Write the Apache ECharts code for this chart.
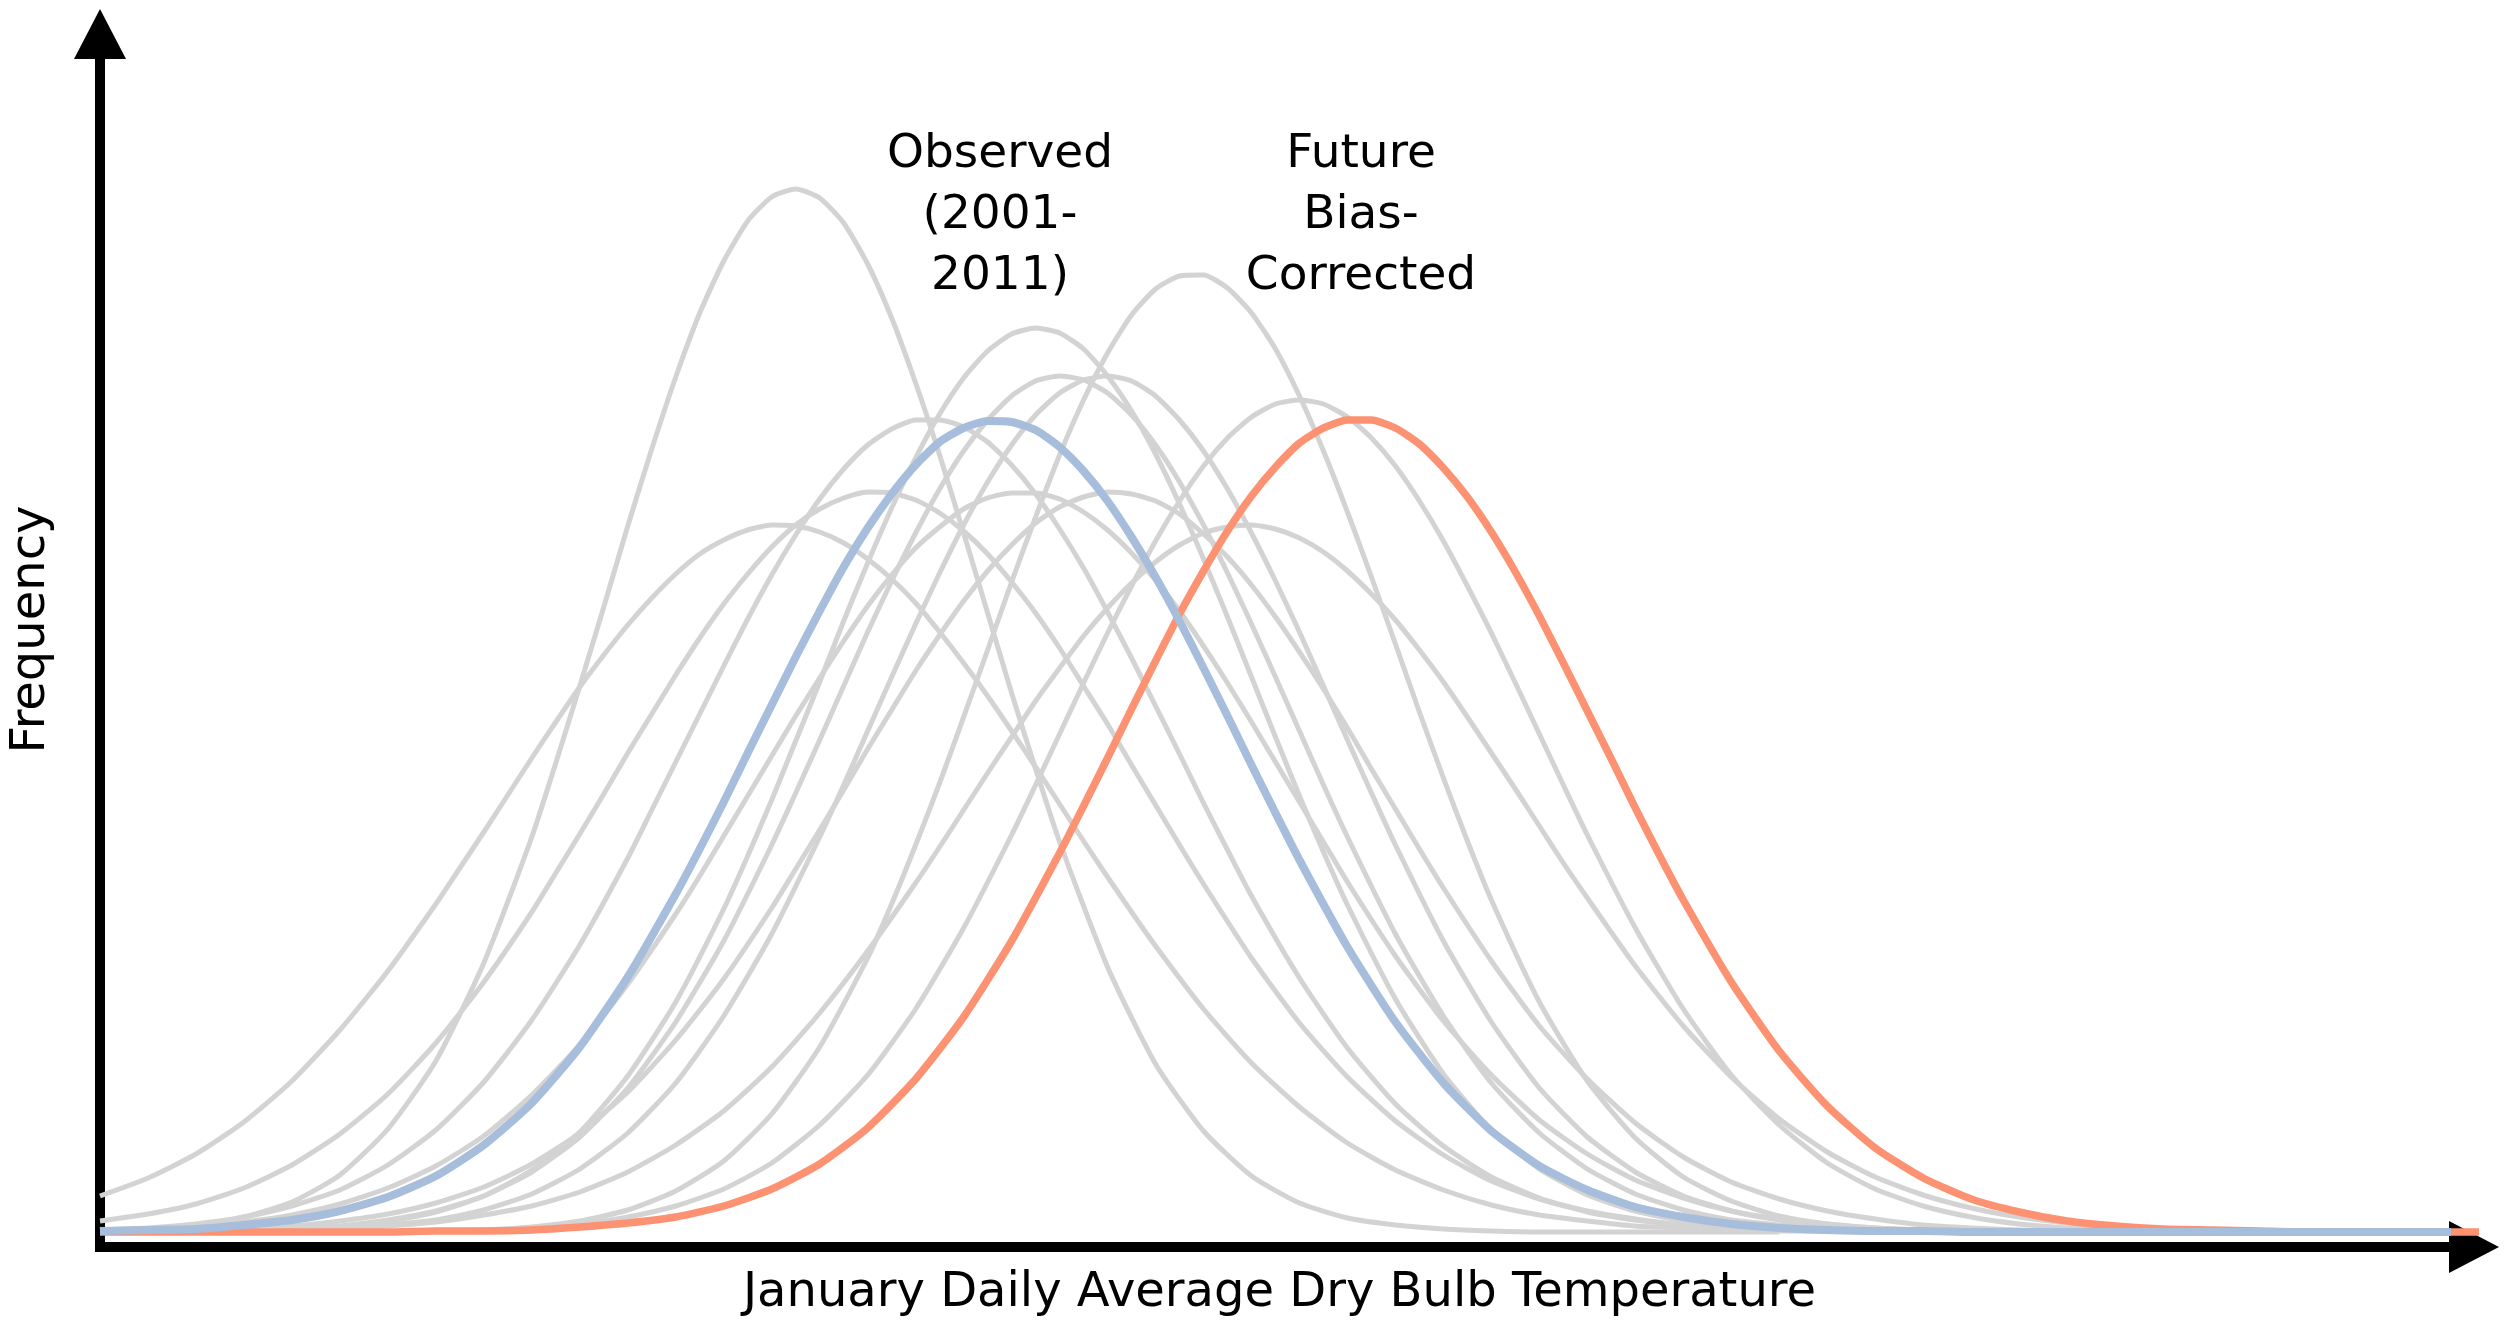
<!DOCTYPE html>
<html>
<head>
<meta charset="utf-8">
<script src="https://cdn.jsdelivr.net/npm/echarts@6/dist/echarts.min.js"></script>
<style>
html,body{margin:0;padding:0;background:#ffffff;}
#chart{width:2506px;height:1325px;}
</style>
</head>
<body>
<div id="chart"></div>
<script>
const _ = null;
// Temperature bins (relative units along the x axis, no tick labels shown)
const tempBins = [0,1,2,3,4,5,6,7,8,9,10,11,12,13,14,15,16,17,18,19,20,21,22,23,24,25,26,27,28,29,30,31,32,33,34,35,36,37,38,39,40,41,42,43,44,45,46,47,48,49,50];
// Half-bins, read only near each curve's peak (null = not read)
const midBins = tempBins.map(function (b) { return b + 0.5; });

// Grey model curves (frequency), whole bins
const modelA = [0.1,0.3,0.7,1.5,3.0,5.7,10.3,17.1,26.9,39.5,54.6,70.6,85.5,97.1,103.5,103.4,96.8,84.9,69.9,53.9,39.0,26.5,16.8,10.1,5.6,2.9,1.4,0.7,0.3,0.1,0,0,0,0,0,0];
const modelB = [0,0,0.1,0.1,0.3,0.5,1.1,2.0,3.6,6.2,10.0,15.6,23.0,32.3,43.2,55.0,66.9,77.4,85.4,89.8,89.9,85.6,77.8,67.3,55.5,43.6,32.7,23.3,15.8,10.2,6.3,3.7,2.1,1.1,0.6,0.3,0.1,0.1,0,0,0,0,0,0,0,0];
const modelC = [0,0,0,0,0,0,0,0.1,0.2,0.5,1.1,2.2,4.1,7.1,11.8,18.5,27.4,38.7,51.5,65.0,77.7,87.9,94.3,95.7,91.9,83.6,72.0,58.8,45.4,33.2,23.0,15.1,9.4,5.5,3.1,1.6,0.8,0.4,0.2,0.1,0,0,0,0,0,0];
const modelD1 = [0,0,0.1,0.2,0.3,0.6,1.2,2.1,3.6,6.0,9.5,14.4,21.0,29.1,38.7,49.2,60.0,69.9,78.1,83.6,85.6,83.9,78.7,70.7,60.8,50.1,39.5,29.8,21.6,14.9,9.9,6.3,3.8,2.2,1.2,0.7,0.3,0.2,0.1,0,0,0,0,0,0,0];
const modelD2 = [0,0,0,0.1,0.2,0.3,0.7,1.2,2.2,3.8,6.3,9.9,14.9,21.6,29.8,39.5,50.1,60.8,70.7,78.7,83.9,85.6,83.6,78.1,69.9,60.0,49.2,38.7,29.1,21.0,14.4,9.5,6.0,3.6,2.1,1.2,0.6,0.3,0.2,0.1,0,0,0,0,0,0];
const modelE = [0.2,0.4,0.8,1.5,2.6,4.2,6.7,10.2,15.0,21.2,28.7,37.4,47.0,56.6,65.7,73.3,78.7,81.2,80.5,76.7,70.3,62.0,52.6,42.9,33.6,25.4,18.4,12.8,8.6,5.5,3.4,2.0,1.2,0.7,0.3,0.2,0.1,0,0,0,0,0,0,0,0,0];
const modelF = [0,0,0,0,0,0,0,0.1,0.2,0.4,0.8,1.5,2.6,4.3,6.9,10.7,15.7,22.3,30.4,39.7,49.8,59.9,69.1,76.6,81.5,83.2,81.5,76.6,69.1,59.9,49.8,39.7,30.4,22.3,15.7,10.7,6.9,4.3,2.6,1.5,0.8,0.4,0.2,0.1,0,0];
const modelG = [1.1,1.8,2.8,4.4,6.7,9.8,13.8,18.9,25.0,32.0,39.8,47.9,55.7,62.8,68.5,72.3,74.0,73.2,70.1,65.0,58.4,50.8,42.7,34.8,27.4,20.9,15.5,11.1,7.7,5.1,3.3,2.1,1.3,0.7,0.4,0.2,0.1,0.1,0,0,0,0,0,0,0,0];
const modelH = [3.6,5.4,7.8,11.0,15.1,20.2,26.1,32.8,40.0,47.4,54.5,60.7,65.8,69.2,70.7,70.0,67.3,62.9,56.9,50.1,42.8,35.5,28.6,22.3,16.9,12.5,8.9,6.2,4.2,2.7,1.7,1.1,0.6,0.4,0.2,0.1,0.1,0,0,0,0,0,0,0,0,0];
const modelI = [0.2,0.3,0.6,1.0,1.7,2.8,4.4,6.6,9.6,13.7,18.7,24.8,31.8,39.6,47.6,55.4,62.6,68.4,72.3,73.9,73.3,70.2,65.2,58.6,51.0,43.0,35.0,27.6,21.1,15.7,11.2,7.8,5.2,3.4,2.1,1.3,0.8,0.4,0.2,0.1,0.1,0,0,0,0,0];
const modelJ = [0.1,0.1,0.2,0.4,0.6,1.1,1.8,2.9,4.5,6.8,9.9,14.0,19.2,25.3,32.4,40.2,48.3,56.1,63.1,68.7,72.5,74.0,73.1,69.8,64.7,58.0,50.4,42.3,34.4,27.1,20.6,15.3,10.9,7.5,5.0,3.3,2.1,1.3,0.7,0.4,0.2,0.1,0.1,0,0,0];
const modelK = [0,0,0.1,0.1,0.2,0.4,0.6,1.0,1.7,2.6,4.0,6.0,8.7,12.1,16.5,21.9,28.1,34.9,42.2,49.5,56.4,62.4,67.0,69.9,70.7,69.4,66.1,61.2,55.0,47.9,40.6,33.4,26.6,20.6,15.5,11.3,8.0,5.5,3.7,2.4,1.5,0.9,0.5,0.3,0.2,0.1];

// Grey model curves, half bins near the peaks
const modelAMid = [_,_,_,_,_,_,_,_,_,46.9,62.5,78.3,91.9,101.1,104.3,100.9,91.4,77.7,61.9,46.3];
const modelBMid = [_,_,_,_,_,_,_,_,_,_,_,_,_,37.6,49.1,61.1,72.4,81.8,88.1,90.4,88.3,82.1,72.8,61.5,49.5,38.0];
const modelCMid = [_,_,_,_,_,_,_,_,_,_,_,_,_,_,_,_,32.8,44.9,58.2,71.5,83.2,91.7,95.6,94.4,88.3,78.1,65.5,52.0,39.1];
const modelD1Mid = [_,_,_,_,_,_,_,_,_,_,_,_,_,_,43.9,54.6,65.1,74.3,81.2,85.1,85.2,81.7,75.0,65.9,55.5,44.7];
const modelD2Mid = [_,_,_,_,_,_,_,_,_,_,_,_,_,_,_,44.7,55.5,65.9,75.0,81.7,85.2,85.1,81.2,74.3,65.1,54.6,43.9];
const modelEMid = [_,_,_,_,_,_,_,_,_,_,_,42.2,51.8,61.3,69.7,76.3,80.3,81.2,79.0,73.8,66.4,57.4,47.8,38.2];
const modelFMid = [_,_,_,_,_,_,_,_,_,_,_,_,_,_,_,_,_,_,_,44.7,54.9,64.6,73.1,79.4,82.8,82.8,79.4,73.1,64.6,54.9,44.7];
const modelGMid = [_,_,_,_,_,_,_,_,_,35.9,43.8,51.8,59.4,65.8,70.7,73.4,73.9,71.9,67.8,61.9,54.6,46.7,38.7];
const modelHMid = [_,_,_,_,_,_,_,36.4,43.7,51.0,57.7,63.4,67.8,70.2,70.6,68.9,65.3,60.0,53.6,46.5,39.1,32.0];
const modelIMid = [_,_,_,_,_,_,_,_,_,_,_,_,35.6,43.6,51.6,59.1,65.7,70.5,73.4,73.9,72.0,67.9,62.1,54.9,47.0,39.0];
const modelJMid = [_,_,_,_,_,_,_,_,_,_,_,_,_,_,36.3,44.2,52.2,59.7,66.1,70.9,73.5,73.8,71.8,67.5,61.5,54.3,46.3,38.3];
const modelKMid = [_,_,_,_,_,_,_,_,_,_,_,_,_,_,_,_,_,38.5,45.9,53.1,59.6,64.9,68.7,70.5,70.3,68.0,63.8,58.2,51.5,44.3,36.9];

// Highlighted curves
const observed = [0.1,0.2,0.3,0.7,1.2,2.1,3.5,5.6,8.7,12.9,18.5,25.5,33.8,43.0,52.7,62.1,70.4,76.7,80.4,81.0,78.5,73.1,65.5,56.4,46.7,37.2,28.5,21.0,14.9,10.1,6.6,4.2,2.5,1.5,0.8,0.4,0.2,0.1,0.1,0,0,0,0,0,0,0,0,0,0,0];
const observedMid = [_,_,_,_,_,_,_,_,_,_,_,_,38.3,47.9,57.5,66.5,73.8,79.0,81.1,80.2,76.1,69.5,61.1,51.6,41.9];
const future = [0,0,0,0,0,0,0,0.1,0.1,0.2,0.5,0.9,1.5,2.6,4.3,6.8,10.4,15.3,21.5,29.1,37.9,47.4,57.1,66.1,73.6,78.9,81.2,80.4,76.4,70.0,61.6,52.1,42.4,33.2,25.0,18.1,12.6,8.4,5.4,3.3,2.0,1.1,0.6,0.3,0.2,0.1,0,0,0,0,0];
const futureMid = [_,_,_,_,_,_,_,_,_,_,_,_,_,_,_,_,_,_,_,_,42.6,52.3,61.8,70.1,76.5,80.4,81.2,78.8,73.5,66.0,56.9,47.3,37.7];

const observedLabel = ['Observed', '(2001-', '2011)'];
const futureLabel = ['Future', 'Bias-', 'Corrected'];
const xTitle = 'January Daily Average Dry Bulb Temperature';
const yTitle = 'Frequency';

const FONT = '"DejaVu Sans", Verdana, sans-serif';

function buildData(vals, mids) {
  const out = [];
  tempBins.forEach(function (b, i) {
    if (i < vals.length && vals[i] != null) out.push([b, vals[i]]);
    if (mids && i < mids.length && mids[i] != null) out.push([midBins[i], mids[i]]);
  });
  return out;
}

const grayModels = [
  [modelA, modelAMid], [modelB, modelBMid], [modelC, modelCMid], [modelD1, modelD1Mid],
  [modelD2, modelD2Mid], [modelE, modelEMid], [modelF, modelFMid], [modelG, modelGMid],
  [modelH, modelHMid], [modelI, modelIMid], [modelJ, modelJMid], [modelK, modelKMid]
];

const series = grayModels.map(function (m) {
  return {
    type: 'line', data: buildData(m[0], m[1]), symbol: 'none', showSymbol: false, smooth: 0.2,
    clip: false, silent: true, animation: false,
    lineStyle: { color: '#d3d3d3', width: 5, join: 'round' }
  };
});
series.push({
  type: 'line', name: 'Future Bias-Corrected', data: buildData(future, futureMid), symbol: 'none', showSymbol: false, smooth: 0.2,
  clip: false, silent: true, animation: false,
  lineStyle: { color: '#fc9272', width: 7.5, join: 'round' }
});
series.push({
  type: 'line', name: 'Observed (2001-2011)', data: buildData(observed, observedMid), symbol: 'none', showSymbol: false, smooth: 0.2,
  clip: false, silent: true, animation: false,
  lineStyle: { color: '#a6bddb', width: 8, join: 'round' }
});

const axisLineStyle = { color: '#000000', width: 10, cap: 'square' };

const option = {
  animation: false,
  backgroundColor: '#ffffff',
  grid: { left: 99, right: 32, top: 34, bottom: 78, containLabel: false },
  xAxis: {
    type: 'value', min: 0, max: 49.48,
    axisLine: { show: true, onZero: false, symbol: ['none', 'triangle'], symbolSize: [52, 50], lineStyle: axisLineStyle },
    axisTick: { show: false }, axisLabel: { show: false }, splitLine: { show: false },
    name: xTitle, nameLocation: 'middle', nameGap: 23,
    nameTextStyle: { fontFamily: FONT, fontSize: 48, color: '#000000', padding: [0, 15, 0, 0] }
  },
  yAxis: {
    type: 'value', min: -1.5, max: 119.8,
    axisLine: { show: true, onZero: false, symbol: ['none', 'triangle'], symbolSize: [52, 50], lineStyle: axisLineStyle },
    axisTick: { show: false }, axisLabel: { show: false }, splitLine: { show: false },
    name: yTitle, nameLocation: 'middle', nameGap: 44,
    nameTextStyle: { fontFamily: FONT, fontSize: 48, color: '#000000', padding: [0, 0, 0, 22] }
  },
  graphic: [
    {
      type: 'text', x: 1000, y: 216, silent: true,
      style: { text: observedLabel.join('\n'), font: '47px ' + FONT, fill: '#000000',
        align: 'center', textAlign: 'center', verticalAlign: 'middle', textVerticalAlign: 'middle', lineHeight: 61 }
    },
    {
      type: 'text', x: 1361, y: 216, silent: true,
      style: { text: futureLabel.join('\n'), font: '47px ' + FONT, fill: '#000000',
        align: 'center', textAlign: 'center', verticalAlign: 'middle', textVerticalAlign: 'middle', lineHeight: 61 }
    }
  ],
  series: series
};

const chart = echarts.init(document.getElementById('chart'), null, { renderer: 'canvas' });
chart.setOption(option);
</script>
</body>
</html>
